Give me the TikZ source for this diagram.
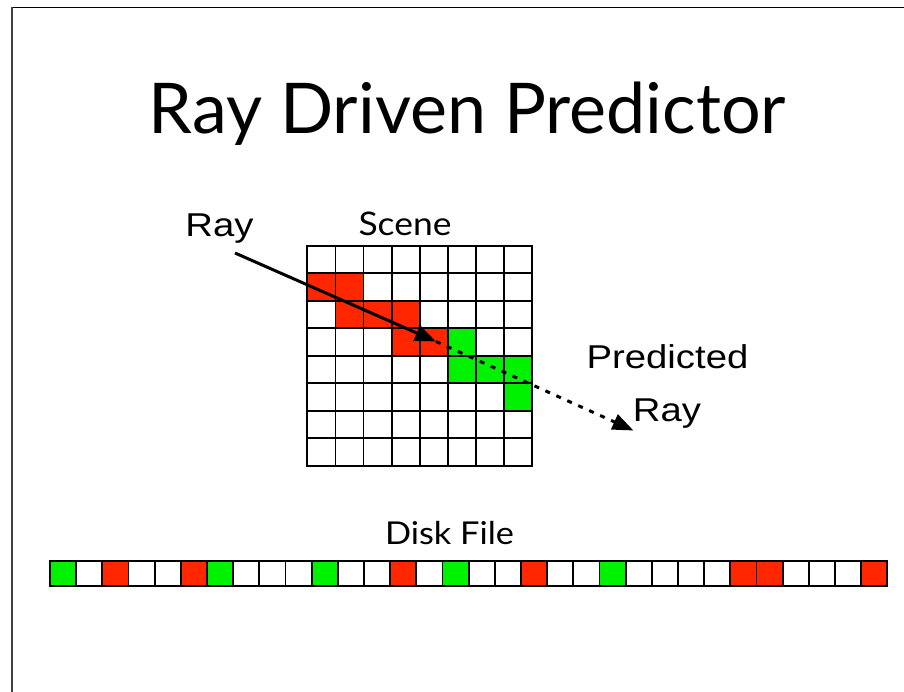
\documentclass[tikz,border=0pt]{standalone}
\usepackage{fontspec}
\setmainfont{Lato}
\newfontfamily\widefont[FakeStretch=1.09]{Lato}
\newfontfamily\labelfont[FakeStretch=1.16]{Liberation Sans}
\usetikzlibrary{arrows.meta}
\definecolor{hitred}{RGB}{255,38,0}
\definecolor{hitgreen}{RGB}{0,242,0}

\begin{document}
\begin{tikzpicture}[x=1pt,y=-1pt,
    titletext/.style={inner sep=0pt,anchor=base,font=\fontsize{70}{70}\selectfont},
    gilllabel/.style={inner sep=0pt,anchor=base,font=\widefont\fontsize{32.5}{32.5}\selectfont},
    helvlabel/.style={inner sep=0pt,anchor=base,font=\labelfont\fontsize{33}{33}\selectfont},
    cellline/.style={draw=black,line width=1.8pt},
    rayline/.style={line width=3pt,-{Triangle[length=21pt,width=16pt]}},
    predline/.style={line width=3pt,dash pattern=on 5pt off 7pt,-{Triangle[length=21pt,width=16pt]}},
  ]
  \useasboundingbox (0,0) rectangle (904,692);

  % slide frame edges
  \draw[line width=1.5pt,black] (904,7.3) -- (11.7,7.3);
  \draw[line width=2pt,black!75] (11.7,7.3) -- (11.7,692);

  % title
  \node[titletext] (title) at (467.5,133.3) {Ray Driven Predictor};

  % scene grid: 8 x 8 cells
  \def\gx{307.3}\def\gy{245.7}\def\cw{28.125}\def\ch{27.5}
  \foreach \c/\r/\col in {0/1/hitred,1/1/hitred,1/2/hitred,2/2/hitred,3/2/hitred,
                          3/3/hitred,4/3/hitred,
                          5/3/hitgreen,5/4/hitgreen,6/4/hitgreen,7/4/hitgreen,7/5/hitgreen}
    \fill[\col] (\gx+\c*\cw,\gy+\r*\ch) rectangle ++(\cw,\ch);
  \foreach \i in {0,...,8} {
    \draw[cellline] (\gx+\i*\cw,\gy-0.9) -- (\gx+\i*\cw,\gy+8*\ch+0.9);
    \draw[cellline] (\gx-0.9,\gy+\i*\ch) -- (\gx+8*\cw+0.9,\gy+\i*\ch);
  }
  \node[gilllabel] (scene) at (405,236) {Scene};

  % ray and its predicted continuation
  \node[helvlabel] (raylbl) at (219.5,236.7) {Ray};
  \coordinate (raystart) at (235,253);
  \coordinate (hit) at (436,341.5);
  \coordinate (predend) at (633.5,430.5);
  \draw[rayline] (raystart) -- (hit);
  \draw[predline] (hit) -- (predend);
  \node[helvlabel] (pred1) at (667.5,368.3) {Predicted};
  \node[helvlabel] (pred2) at (667,421.7) {Ray};

  % disk file: 32 blocks
  \node[gilllabel,font=\widefont\fontsize{31.5}{31.5}\selectfont] (disk) at (449.5,544.3) {Disk File};
  \def\dx{50}\def\dy{560.7}\def\dw{26.166}\def\dh{25.3}
  \foreach \col [count=\k from 0] in {hitgreen,white,hitred,white,white,hitred,hitgreen,white,
      white,white,hitgreen,white,white,hitred,white,hitgreen,
      white,white,hitred,white,white,hitgreen,white,white,
      white,white,hitred,hitred,white,white,white,hitred}
    \filldraw[fill=\col,cellline] (\dx+\k*\dw,\dy) rectangle ++(\dw,\dh);
\end{tikzpicture}
\end{document}
